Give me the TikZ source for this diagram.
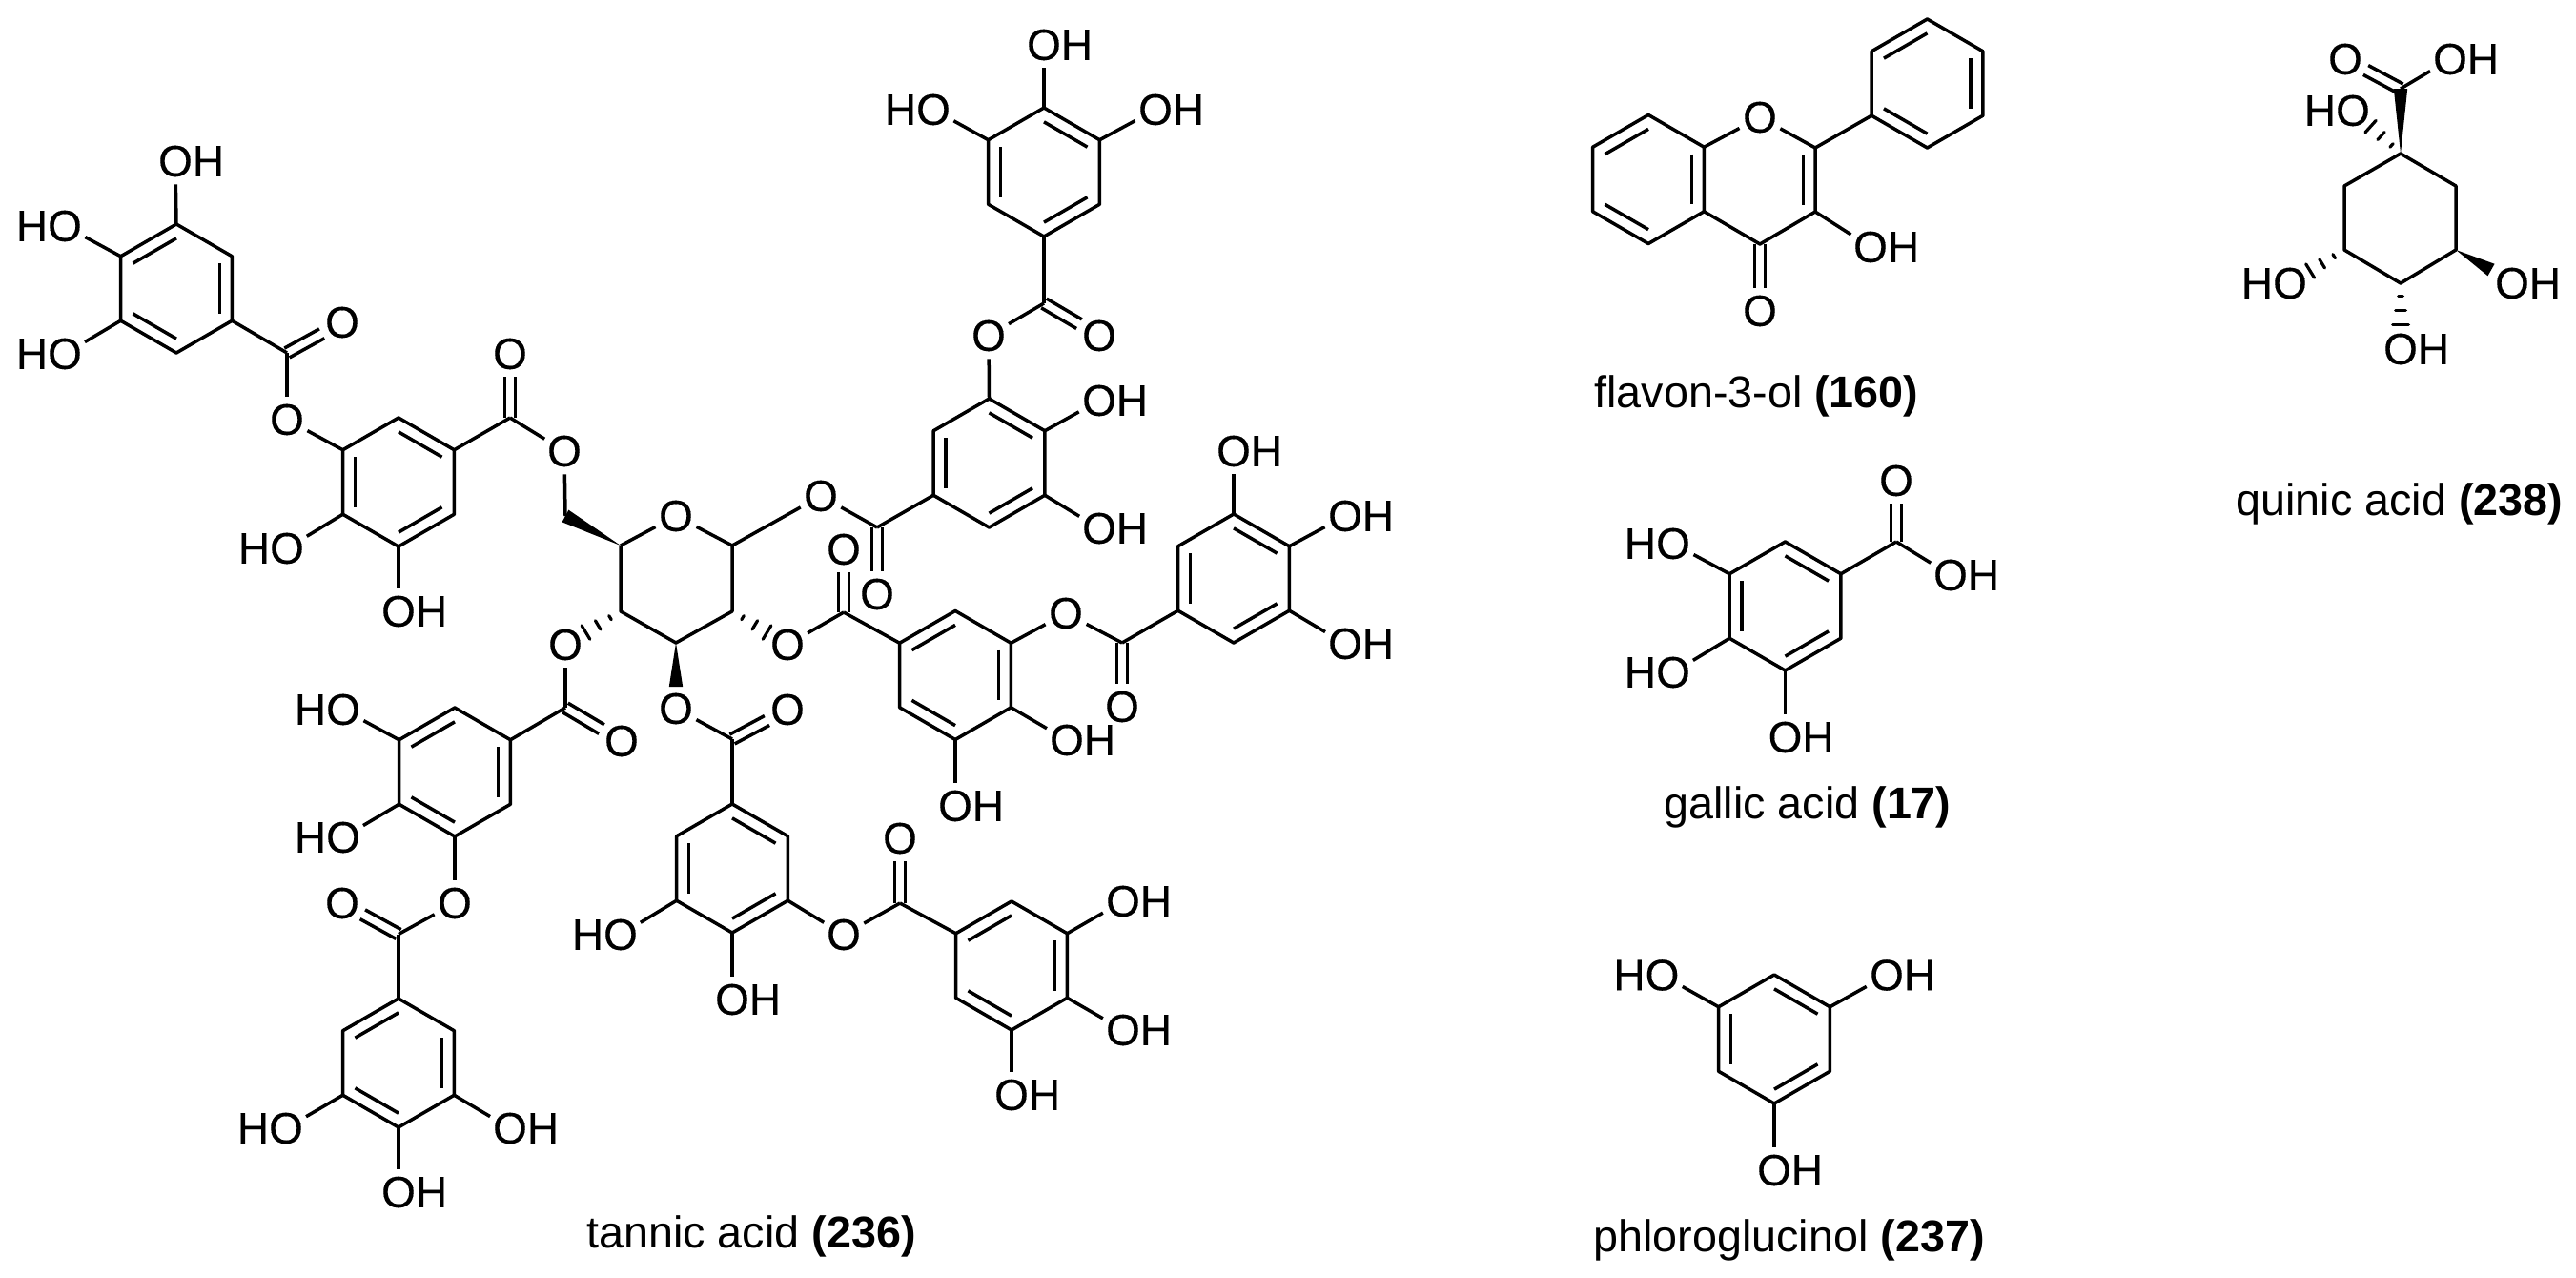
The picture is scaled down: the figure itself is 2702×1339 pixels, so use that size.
\documentclass[tikz,border=0pt]{standalone}
\usepackage{fontspec}
\setmainfont{Liberation Sans}
\newfontfamily\labelfont[FakeBold=0.25]{Liberation Sans}
\usetikzlibrary{calc}
\tikzset{
  bondline/.style={draw=black,line width=1.75pt,line join=round,line cap=butt},
  hashline/.style={draw=black,line width=1.6pt,line cap=round},
  atom/.style={circle,inner sep=0pt,outer sep=0pt,minimum size=24.4pt,font=\fontsize{23}{23}\labelfont},
  captionlabel/.style={anchor=base west,inner sep=0pt,font=\fontsize{23.35}{28}\selectfont}
}
% carbon point
\newcommand\cpt[3]{\coordinate (#1) at (#2,#3);}
% hetero-atom node
\newcommand\atomn[4]{\node[atom] (#1) at (#2,#3) {#4};}
\newcommand\Ox[3]{\atomn{#1}{#2}{#3}{O}}
\newcommand\OH[3]{\atomn{#1}{#2}{#3}{O\rlap{H}}}
\newcommand\HO[3]{\atomn{#1}{#2}{#3}{\llap{H}O}}
\newcommand\bond[2]{\draw[bondline] (#1) -- (#2);}
% pointy-top hexagon: #1 prefix, centre #2,#3; vertices 1..6 clockwise from top
\newcommand\hexpts[3]{%
  \coordinate (#1c) at (#2,#3);
  \coordinate (#11) at ($(#1c)+(0,-67.5)$);
  \coordinate (#12) at ($(#1c)+(58.4,-33.75)$);
  \coordinate (#13) at ($(#1c)+(58.4,33.75)$);
  \coordinate (#14) at ($(#1c)+(0,67.5)$);
  \coordinate (#15) at ($(#1c)+(-58.4,33.75)$);
  \coordinate (#16) at ($(#1c)+(-58.4,-33.75)$);}
\newcommand\hexring[3]{\hexpts{#1}{#2}{#3}%
  \draw[bondline] (#11)--(#12)--(#13)--(#14)--(#15)--(#16)--cycle;}
% inner line of a ring double bond
\newcommand\dbl[3]{\draw[bondline] ($(#2)!.22!(#1)$) -- ($(#3)!.22!(#1)$);}
\newcommand\dbA[1]{\dbl{#1c}{#11}{#12}\dbl{#1c}{#13}{#14}\dbl{#1c}{#15}{#16}}
\newcommand\dbB[1]{\dbl{#1c}{#16}{#11}\dbl{#1c}{#12}{#13}\dbl{#1c}{#14}{#15}}
% exocyclic C=O
\newcommand\dco[2]{%
  \draw[bondline,shorten >=12.2pt] ($(#1)!2.8pt!90:(#2.center)$) -- ($(#2.center)!2.8pt!-90:(#1)$);
  \draw[bondline,shorten >=12.2pt] ($(#1)!2.8pt!-90:(#2.center)$) -- ($(#2.center)!2.8pt!90:(#1)$);}
% solid wedge: tip, wide end
\newcommand\wedgeb[2]{\fill[black] ($(#2)!3.6pt!90:(#1)$) -- ($(#2)!3.6pt!-90:(#1)$) -- (#1) -- cycle;}
% hashed wedge: from, to
\newcommand\hashmark[4]{%
  \coordinate (hm) at ($(#1)!#3!(#2)$);
  \draw[hashline] ($(hm)!#4!90:(#2)$) -- ($(hm)!#4!-90:(#2)$);}
\newcommand\hashb[2]{\hashmark{#1}{#2}{.19}{1.2pt}\hashmark{#1}{#2}{.41}{2.7pt}\hashmark{#1}{#2}{.63}{4.2pt}}
\begin{document}
\begin{tikzpicture}[x=0.5pt,y=-0.5pt]
\useasboundingbox (0,0) rectangle (2702,1339);
% ---------- sugar core
\Ox{So}{709}{541}
\cpt{S5}{651}{572}\cpt{S1}{768}{572}\cpt{S2}{768}{641}\cpt{S3}{709}{674}\cpt{S4}{651}{641}
\bond{S5}{So}\bond{So}{S1}
\draw[bondline] (S1)--(S2)--(S3)--(S4)--(S5);
% ---------- upper-left digallate
\hexring{RA}{185}{302.5}\dbB{RA}
\OH{a1}{184}{169}\HO{a2}{68}{237}\HO{a3}{68}{371}
\bond{RA1}{a1}\bond{RA6}{a2}\bond{RA5}{a3}
\cpt{ca}{301}{370}\Ox{oa}{359}{338}\Ox{ea}{301}{440}
\bond{RA3}{ca}\dco{ca}{oa}\bond{ca}{ea}
\hexring{RB}{418}{505.5}\dbA{RB}
\bond{ea}{RB6}
\OH{b1}{418}{641}\HO{b2}{301}{575}
\bond{RB4}{b1}\bond{RB5}{b2}
\cpt{cb}{535}{438}\Ox{ob}{535}{371}\Ox{eb}{592}{473}\cpt{ch2}{593}{541}
\bond{RB2}{cb}\dco{cb}{ob}\bond{cb}{eb}\bond{eb}{ch2}
\wedgeb{S5}{ch2}
% ---------- top digallate
\hexring{RT}{1095}{180.5}\dbA{RT}
\OH{t1}{1095}{47}\HO{t2}{979}{115}\OH{t3}{1212}{115}
\bond{RT1}{t1}\bond{RT6}{t2}\bond{RT2}{t3}
\cpt{ct}{1095}{318}\Ox{ot}{1153}{352}\Ox{et}{1037}{352}
\bond{RT4}{ct}\dco{ct}{ot}\bond{ct}{et}
\hexring{RU}{1037.5}{485.5}\dbA{RU}
\bond{et}{RU1}
\OH{u1}{1153}{420}\OH{u2}{1153}{554}
\bond{RU2}{u1}\bond{RU3}{u2}
\cpt{cu}{920}{553}\Ox{ou}{920}{623}\Ox{eu}{861}{520}
\bond{RU5}{cu}\dco{cu}{ou}\bond{cu}{eu}\bond{eu}{S1}
% ---------- right digallate on C2
\Ox{o2}{826}{676}\hashb{S2}{o2}
\cpt{cm}{885}{642}\Ox{om}{885}{576}
\bond{o2}{cm}\dco{cm}{om}
\hexring{RM}{1002}{708}\dbB{RM}
\bond{cm}{RM6}
\OH{m1}{1119}{776}\OH{m2}{1002}{845}
\bond{RM3}{m1}\bond{RM4}{m2}
\Ox{em}{1118}{643}\cpt{cr}{1177}{674}\Ox{or}{1177}{741}
\bond{RM2}{em}\bond{em}{cr}\dco{cr}{or}
\hexring{RR}{1294}{606.5}\dbA{RR}
\bond{cr}{RR5}
\OH{r1}{1294}{473}\OH{r2}{1411}{541}\OH{r3}{1411}{675}
\bond{RR1}{r1}\bond{RR2}{r2}\bond{RR3}{r3}
% ---------- lower-left digallate on C4
\Ox{o4}{593}{676}\hashb{S4}{o4}
\cpt{cl}{593}{742}\Ox{ol}{652}{777}
\bond{o4}{cl}\dco{cl}{ol}
\hexring{RL}{477}{809.5}\dbB{RL}
\bond{cl}{RL2}
\HO{l1}{360}{744}\HO{l2}{360}{878}
\bond{RL6}{l1}\bond{RL5}{l2}
\Ox{el}{477}{947}\cpt{ck}{418}{979.5}\Ox{ok}{359}{947}
\bond{RL4}{el}\bond{el}{ck}\dco{ck}{ok}
\hexring{RK}{418}{1114.5}\dbB{RK}
\bond{ck}{RK1}
\HO{k1}{300}{1183}\OH{k2}{535}{1183}\OH{k3}{418}{1250}
\bond{RK5}{k1}\bond{RK3}{k2}\bond{RK4}{k3}
% ---------- middle digallate on C3
\Ox{o3}{709}{743}\cpt{w3}{709}{720}
\wedgeb{S3}{w3}
\cpt{cc}{768}{775}\Ox{oc}{826}{744}
\bond{o3}{cc}\dco{cc}{oc}
\hexring{RC}{768}{910.5}\dbA{RC}
\bond{cc}{RC1}
\HO{c1}{651}{980}\OH{c2}{768}{1048}
\bond{RC5}{c1}\bond{RC4}{c2}
\Ox{ec}{885}{980}\cpt{cd}{944}{947}\Ox{od}{944}{879}
\bond{RC3}{ec}\bond{ec}{cd}\dco{cd}{od}
\hexring{RD}{1061}{1012.5}\dbB{RD}
\bond{cd}{RD6}
\OH{d1}{1178}{945}\OH{d2}{1178}{1080}\OH{d3}{1061}{1148}
\bond{RD2}{d1}\bond{RD3}{d2}\bond{RD4}{d3}
% ---------- flavon-3-ol
\hexring{RF}{1729}{188}\dbB{RF}
\Ox{fo}{1846}{123}\cpt{f2}{1904}{155}\cpt{f3}{1904}{222}\cpt{f4}{1846}{256}\cpt{fc}{1846}{188.5}
\bond{RF2}{fo}\bond{fo}{f2}
\draw[bondline] (f2)--(f3)--(f4)--(RF3);
\dbl{fc}{f2}{f3}
\Ox{fk}{1846}{326}\dco{f4}{fk}
\OH{fh}{1962}{259}\bond{f3}{fh}
\hexring{RP}{2021.5}{87.5}\dbB{RP}
\bond{f2}{RP5}
% ---------- gallic acid
\hexring{RG}{1872.5}{635.5}\dbA{RG}
\HO{g1}{1755}{570}\HO{g2}{1755}{705}\OH{g3}{1872.5}{773}
\bond{RG6}{g1}\bond{RG5}{g2}\bond{RG4}{g3}
\cpt{gc}{1989}{568}\Ox{go}{1989}{504}\OH{gh}{2046}{603}
\bond{RG2}{gc}\dco{gc}{go}\bond{gc}{gh}
% ---------- phloroglucinol
\hexring{RH}{1861}{1089.5}\dbA{RH}
\HO{h1}{1743.5}{1022.5}\OH{h2}{1979}{1022.5}\OH{h3}{1861}{1227}
\bond{RH6}{h1}\bond{RH2}{h2}\bond{RH4}{h3}
% ---------- quinic acid
\cpt{q1}{2518}{161}\cpt{q2}{2576}{195}\cpt{q3}{2576}{262}\cpt{q4}{2518}{297}\cpt{q5}{2459}{262}\cpt{q6}{2459}{195}
\draw[bondline] (q1)--(q2)--(q3)--(q4)--(q5)--(q6)--cycle;
\cpt{qc}{2518}{93}\Ox{qo}{2460}{62}\OH{qh}{2570}{62}
\wedgeb{q1}{qc}\dco{qc}{qo}\bond{qc}{qh}
\HO{qa}{2468}{116}\hashb{q1}{qa}
\HO{qb}{2402}{297}\hashb{q5}{qb}
\OH{qd}{2518}{366}\hashb{q4}{qd}
\OH{qe}{2635}{297}\cpt{qw}{2613}{283}\wedgeb{q3}{qw}
% ---------- captions
\node[captionlabel] (capt) at (615,1308) {tannic acid \textbf{(236)}};
\node[captionlabel] (capf) at (1672,427) {flavon-3-ol \textbf{(160)}};
\node[captionlabel] (capg) at (1745,858) {gallic acid \textbf{(17)}};
\node[captionlabel] (capp) at (1671,1312) {phloroglucinol \textbf{(237)}};
\node[captionlabel] (capq) at (2345,540) {quinic acid \textbf{(238)}};
\end{tikzpicture}
\end{document}
